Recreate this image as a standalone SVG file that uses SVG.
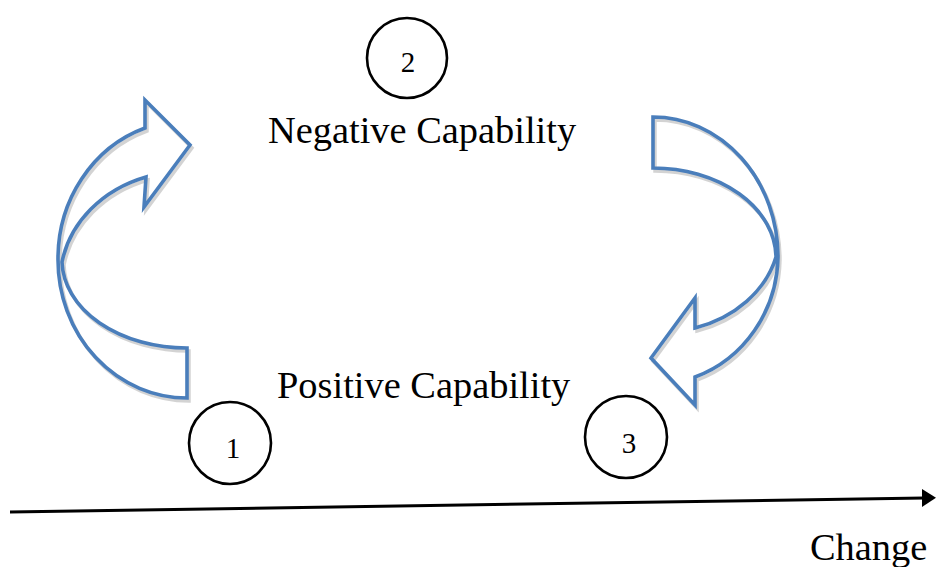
<svg xmlns="http://www.w3.org/2000/svg" xmlns:xlink="http://www.w3.org/1999/xlink" width="936" height="567" viewBox="0 0 936 567">
<style>
.txt{font-family:"Liberation Serif","Times New Roman",serif;fill:#000}
.lbl{font-size:38.4px}
.num{font-size:29px;text-anchor:middle}
.arr{fill:none;stroke:#4A7EBB;stroke-width:3.6;stroke-linejoin:miter}
.shd{fill:none;stroke:#c8c8c8;stroke-width:3.5;opacity:0.8}
.ring{fill:#fff;stroke:#000;stroke-width:2.6}
</style>
<defs>
<path id="leftArrowPath" d="M187,398 A129,138 0 0 1 58,260 A129,138 0 0 1 145,128 L145,100 L190,145 L144,207 L146,177 A125,110 0 0 0 62,262 A125,88 0 0 0 187,348 Z"/>
<path id="rightArrowPath" d="M653,117 A125,140 0 0 1 778,257 A125,130 0 0 1 695,377 L695,405 L651,358 L695,298 L695,328 A120,100 0 0 0 776,257 A123,90 0 0 0 653,168 Z"/>
</defs>
<g id="connectors">
<g id="curved-arrow-left">
<use xlink:href="#leftArrowPath" class="shd" transform="translate(2,3)"/>
<use xlink:href="#leftArrowPath" class="arr"/>
</g>
<g id="curved-arrow-right">
<use xlink:href="#rightArrowPath" class="shd" transform="translate(2,3)"/>
<use xlink:href="#rightArrowPath" class="arr"/>
</g>
<g id="change-axis">
<line x1="10" y1="512" x2="924" y2="498" stroke="#000" stroke-width="3"/>
<polygon points="936,497.8 922,489 922,507" fill="#000"/>
</g>
</g>
<g id="node-negative">
<text class="txt lbl" x="268" y="143">Negative Capability</text>
</g>
<g id="node-positive">
<text class="txt lbl" x="277" y="398">Positive Capability</text>
</g>
<g id="node-change">
<text class="txt lbl" x="810" y="560">Change</text>
</g>
<g id="circle-1">
<circle class="ring" cx="230" cy="443" r="41"/>
<text class="txt num" x="233" y="458">1</text>
</g>
<g id="circle-2">
<circle class="ring" cx="407" cy="58" r="40"/>
<text class="txt num" x="408" y="72">2</text>
</g>
<g id="circle-3">
<circle class="ring" cx="626" cy="437" r="41"/>
<text class="txt num" x="629" y="453">3</text>
</g>
</svg>
